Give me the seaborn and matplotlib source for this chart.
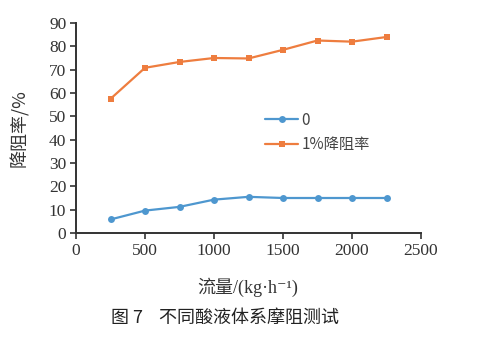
import matplotlib
matplotlib.use("Agg")
import matplotlib.pyplot as plt
import seaborn as sns
import pandas as pd

flow = [250, 500, 750, 1000, 1250, 1500, 1750, 2000, 2250]
s0 = [5.8, 9.6, 11.2, 14.3, 15.5, 15.0, 15.0, 15.0, 15.0]
s1 = [57.5, 70.8, 73.3, 75.0, 74.8, 78.5, 82.5, 82.0, 84.0]
series_names = ["0", "1%降阻率"]
xticks = [0, 500, 1000, 1500, 2000, 2500]
yticks = list(range(0, 91, 10))

sns.set_theme(style="white")
plt.rcParams['font.family'] = ['Liberation Serif', 'Noto Sans CJK SC', 'DejaVu Sans']

df = pd.DataFrame({
    "flow": flow * 2,
    "val": s0 + s1,
    "series": [series_names[0]] * len(flow) + [series_names[1]] * len(flow),
})

fig = plt.figure(figsize=(4.79, 3.47), dpi=100)
ax = fig.add_axes([76/479, 1 - 233/347, (421-76)/479, (233-23)/347])

palette = {series_names[0]: "#4e97cf", series_names[1]: "#ee7d3f"}
sns.lineplot(data=df, x="flow", y="val", hue="series", style="series",
             markers={series_names[0]: "o", series_names[1]: "s"},
             dashes=False, palette=palette, ax=ax, linewidth=1.6,
             markersize=5, markeredgewidth=0)

ax.set_xlim(0, 2500)
ax.set_ylim(0, 90)
ax.set_xticks(xticks)
ax.set_yticks(yticks)
ax.tick_params(axis='both', labelsize=12.5, colors='#333333', length=4,
               width=1.2, direction='out', left=True, bottom=True, pad=3)
for sp in ["top", "right"]:
    ax.spines[sp].set_visible(False)
for sp in ["left", "bottom"]:
    ax.spines[sp].set_color("#333333")
    ax.spines[sp].set_linewidth(1.4)

ax.set_xlabel("")
ax.set_ylabel("")
fig.text(20/479, 1 - 128/347, "降阻率/%", rotation=90, ha='center', va='center',
         fontsize=13, color='#333333',
         family=['Noto Sans CJK SC', 'Liberation Serif'])
fig.text(248/479, 1 - 287/347, "流量/(kg·h⁻¹)", ha='center', va='center',
         fontsize=13, color='#333333',
         family=['Liberation Serif', 'Noto Sans CJK SC', 'DejaVu Sans'])
fig.text(225/479, 1 - 318/347, "图 7    不同酸液体系摩阻测试", ha='center', va='center',
         fontsize=13, color='#222222',
         family=['Noto Sans CJK SC', 'Liberation Serif'])

leg = ax.legend(loc='upper left', bbox_to_anchor=(175/345, 1 - 75/210),
                frameon=False, handlelength=2.2,
                handletextpad=0.2, labelspacing=0.5,
                prop={'family': ['Noto Sans CJK SC'], 'size': 11})
for t in leg.get_texts():
    t.set_color('#444444')

fig.savefig("out.png", dpi=100)
